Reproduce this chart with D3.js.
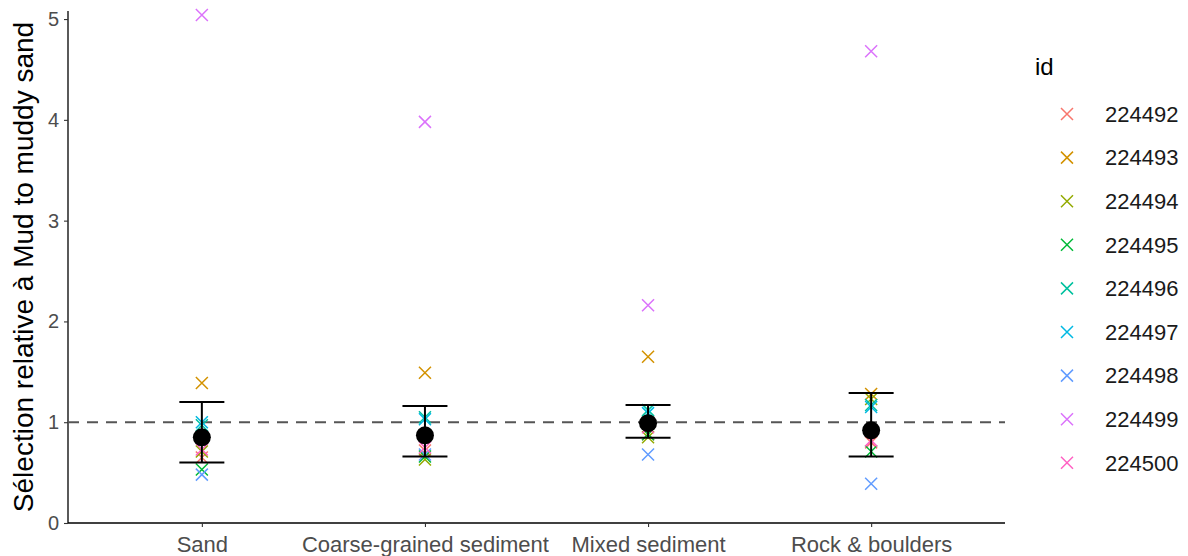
<!DOCTYPE html>
<html>
<head>
<meta charset="utf-8">
<script src="https://cdn.jsdelivr.net/npm/d3@7"></script>
<style>
  html, body { margin: 0; padding: 0; background: #ffffff; }
  svg { display: block; font-family: "Liberation Sans", Arial, sans-serif; }
</style>
</head>
<body>
<svg id="chart" width="1188" height="556"></svg>
<script>
// Habitat categories on the x axis
const categories = ["Sand", "Coarse-grained sediment", "Mixed sediment", "Rock & boulders"];

// Individual ids (legend order)
const ids = ["224492", "224493", "224494", "224495", "224496", "224497", "224498", "224499", "224500"];
const idColors = ["#F8766D", "#D39200", "#93AA00", "#00BA38", "#00C19F", "#00B9E3", "#619CFF", "#DB72FB", "#FF61C3"];

// Relative selection per id, one array per category (same order as ids)
const sandValues   = [0.65, 1.39, 0.71, 0.53, 0.97, 1.00, 0.48, 5.04, 0.73];
const coarseValues = [0.72, 1.49, 0.63, 0.66, 1.05, 1.03, 0.68, 3.98, 0.75];
const mixedValues  = [0.88, 1.65, 0.85, 0.88, 1.12, 1.09, 0.68, 2.16, 0.95];
const rockValues   = [0.80, 1.28, 1.23, 0.71, 1.17, 1.15, 0.39, 4.68, 0.82];

// Summary per category: mean with lower / upper error bounds
const meanValues  = [0.85, 0.87, 0.99, 0.92];
const lowerValues = [0.60, 0.66, 0.845, 0.66];
const upperValues = [1.20, 1.16, 1.17, 1.29];

// Reference level and y ticks
const referenceLevel = 1;
const yTicks = [0, 1, 2, 3, 4, 5];

const svg = d3.select("#chart");
const margin = { left: 68, right: 183, top: 11, bottom: 33 };
const width = 1188, height = 556;
const plotRight = width - margin.right;
const plotBottom = height - margin.bottom;

const x = d3.scalePoint().domain(categories).range([margin.left, plotRight]).padding(0.6);
const y = d3.scaleLinear().domain([0, 5.08]).range([plotBottom, margin.top]);
const color = d3.scaleOrdinal().domain(ids).range(idColors);

const allSeries = [sandValues, coarseValues, mixedValues, rockValues];
const points = [];
allSeries.forEach((vals, ci) => {
  vals.forEach((v, i) => points.push({ cat: categories[ci], id: ids[i], value: v }));
});

// Axes
const yAxis = d3.axisLeft(y).tickValues(yTicks).tickFormat(d3.format("d")).tickSize(4).tickPadding(5);
const gy = svg.append("g").attr("transform", `translate(${margin.left},0)`).call(yAxis);
gy.select(".domain").attr("stroke", "#000").attr("stroke-width", 1.3).attr("d", `M0,${margin.top}V${plotBottom}`);
gy.selectAll(".tick line").attr("stroke", "#333").attr("stroke-width", 1.1);
gy.selectAll(".tick text").attr("fill", "#4D4D4D").style("font-size", "20px");

const xAxis = d3.axisBottom(x).tickSize(4).tickPadding(4);
const gx = svg.append("g").attr("transform", `translate(0,${plotBottom})`).call(xAxis);
gx.select(".domain").attr("stroke", "#000").attr("stroke-width", 1.3).attr("d", `M${margin.left},0H${plotRight}`);
gx.selectAll(".tick line").attr("stroke", "#333").attr("stroke-width", 1.1);
gx.selectAll(".tick text").attr("fill", "#4D4D4D").style("font-size", "22px").attr("dy", "0.95em");

// Dashed reference line
svg.append("line")
  .attr("x1", margin.left).attr("x2", plotRight)
  .attr("y1", y(referenceLevel)).attr("y2", y(referenceLevel))
  .attr("stroke", "#555").attr("stroke-width", 2).attr("stroke-dasharray", "11,8");

// Cross marker path
const cross = (s) => `M${-s},${-s}L${s},${s}M${-s},${s}L${s},${-s}`;

// Individual points
svg.append("g").selectAll("path").data(points).join("path")
  .attr("transform", d => `translate(${x(d.cat)},${y(d.value)})`)
  .attr("d", cross(6))
  .attr("stroke", d => color(d.id)).attr("stroke-width", 1.5).attr("fill", "none");

// Error bars
const capHalf = 22.5;
const eb = svg.append("g").selectAll("g").data(categories).join("g")
  .attr("transform", d => `translate(${x(d)},0)`);
eb.append("line").attr("x1", 0).attr("x2", 0)
  .attr("y1", (d, i) => y(lowerValues[i])).attr("y2", (d, i) => y(upperValues[i]))
  .attr("stroke", "#000").attr("stroke-width", 2);
eb.append("line").attr("x1", -capHalf).attr("x2", capHalf)
  .attr("y1", (d, i) => y(upperValues[i])).attr("y2", (d, i) => y(upperValues[i]))
  .attr("stroke", "#000").attr("stroke-width", 2);
eb.append("line").attr("x1", -capHalf).attr("x2", capHalf)
  .attr("y1", (d, i) => y(lowerValues[i])).attr("y2", (d, i) => y(lowerValues[i]))
  .attr("stroke", "#000").attr("stroke-width", 2);

// Means
eb.append("circle").attr("cx", 0).attr("cy", (d, i) => y(meanValues[i])).attr("r", 9).attr("fill", "#000");

// Y axis title
svg.append("text")
  .attr("transform", `translate(33,${(margin.top + plotBottom) / 2}) rotate(-90)`)
  .attr("text-anchor", "middle")
  .style("font-size", "28px").attr("fill", "#000")
  .text("Sélection relative à Mud to muddy sand");

// Legend
const legend = svg.append("g").attr("transform", "translate(1035,0)");
legend.append("text").attr("x", 0).attr("y", 75).style("font-size", "24px").attr("fill", "#000").text("id");
const items = legend.selectAll("g.item").data(ids).join("g").attr("class", "item")
  .attr("transform", (d, i) => `translate(0,${114 + i * 43.6})`);
items.append("path").attr("transform", "translate(32,0)").attr("d", cross(6))
  .attr("stroke", d => color(d)).attr("stroke-width", 1.5).attr("fill", "none");
items.append("text").attr("x", 70).attr("y", 0).attr("dy", "0.35em")
  .style("font-size", "22px").attr("fill", "#1a1a1a").text(d => d);
</script>
</body>
</html>
